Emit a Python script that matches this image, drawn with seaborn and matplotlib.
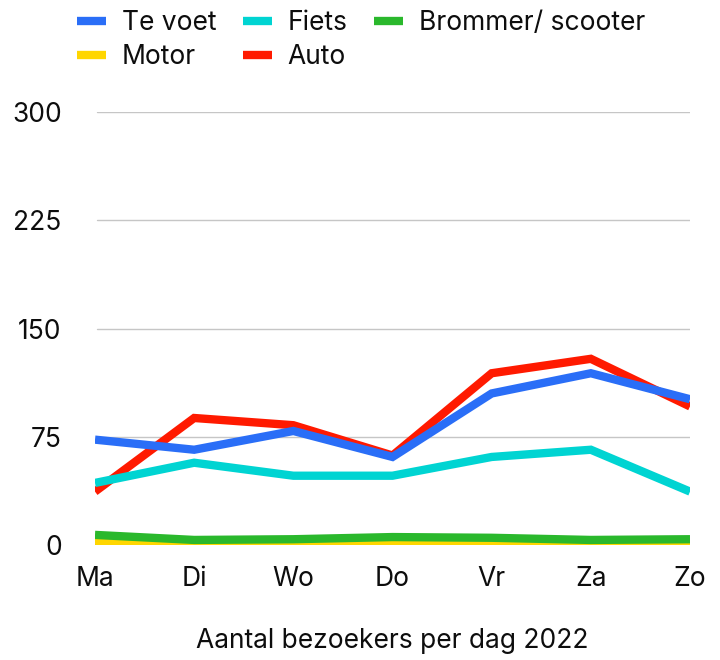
import pandas as pd
import numpy as np
import seaborn as sns
import matplotlib.pyplot as plt
from matplotlib.lines import Line2D

# data
dagen = ["Ma", "Di", "Wo", "Do", "Vr", "Za", "Zo"]
te_voet = [73, 66, 79, 61, 105, 119, 101]
fiets = [43, 57, 48, 48, 61, 66, 37]
brommer = [7, 3.5, 4, 5.5, 5, 3.5, 4]
motor = [1.5, 2.5, 2.5, 0.5, 1.5, 0.5, 0.5]
auto = [37, 88, 83, 62, 119, 129, 96]

series = ["Te voet", "Fiets", "Brommer/ scooter", "Motor", "Auto"]
kleuren = ["#2a6ef7", "#00d4d2", "#2ab82c", "#ffd600", "#ff1a00"]
yticks = [0, 75, 150, 225, 300]

df = pd.DataFrame({
    "dag": dagen * 5,
    "x": list(range(len(dagen))) * 5,
    "waarde": te_voet + fiets + brommer + motor + auto,
    "soort": np.repeat(series, len(dagen)),
})

sns.set_style("white")
plt.rcParams['font.family'] = ['Inter', 'DejaVu Sans']
fs = 19

fig = plt.figure(figsize=(7.2, 6.6), dpi=100)
ax = fig.add_axes([95 / 720, 1 - 545 / 660, (690 - 95) / 720, (545 - 112) / 660])

ax = sns.lineplot(data=df, x="x", y="waarde", hue="soort", hue_order=series,
                  palette=kleuren, linewidth=6, legend=False, ax=ax,
                  solid_capstyle="butt", solid_joinstyle="miter")
# first series on top
for i, line in enumerate(ax.lines):
    line.set_zorder(10 - i)

ax.set_xlim(0, 6)
ax.set_ylim(0, 300)
ax.set_xticks(range(len(dagen)))
ax.set_xticklabels(dagen)
ax.set_yticks(yticks)
ax.set_yticklabels([str(t) for t in yticks])
for t in yticks[1:]:
    ax.axhline(t, color="#c6c6c6", lw=1, zorder=0, xmin=0.004)
ax.axhline(0, color="#222222", lw=1.5, zorder=1)
for s in ax.spines.values():
    s.set_visible(False)
ax.tick_params(axis="both", length=0, labelsize=fs, colors="#0d0d0d")
ax.tick_params(axis="x", pad=15)
ax.tick_params(axis="y", pad=24)
ax.set_xlabel("")
ax.set_ylabel("")
fig.text(392 / 720, 1 - 641 / 660, "Aantal bezoekers per dag 2022",
         ha="center", va="center", fontsize=fs, color="#0d0d0d")

# legend, column-wise fill: Te voet/Motor, Fiets/Auto, Brommer
volgorde = [0, 3, 1, 4, 2]
handles = [Line2D([], [], color=kleuren[i], lw=6, solid_capstyle="butt") for i in volgorde]
labels = [series[i] for i in volgorde]
leg = fig.legend(handles, labels, loc="upper left", bbox_to_anchor=(77 / 720, 1 - 10 / 660),
                 ncol=3, frameon=False, fontsize=fs, handlelength=1.1,
                 handletextpad=0.6, columnspacing=1.0, labelspacing=0.3,
                 borderpad=0, borderaxespad=0)
for t in leg.get_texts():
    t.set_color("#0d0d0d")

fig.savefig("out.png", dpi=100)
